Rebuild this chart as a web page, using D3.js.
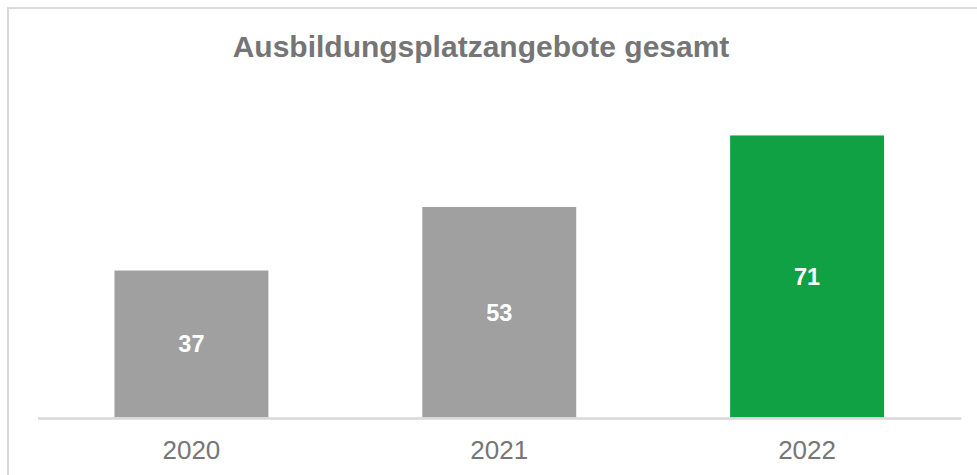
<!DOCTYPE html>
<html>
<head>
<meta charset="utf-8">
<script src="https://cdn.jsdelivr.net/npm/d3@7"></script>
<style>
  body { margin: 0; background: #fff; }
  svg { display: block; font-family: "Liberation Sans", Arial, sans-serif; }
</style>
</head>
<body>
<svg id="chart"></svg>
<script>
// data
const years = ['2020', '2021', '2022'];
const offers = [37, 53, 71];
const barColors = ['#a0a0a0', '#a0a0a0', '#0fa144'];
const title = 'Ausbildungsplatzangebote gesamt';

const width = 977, height = 475;
const svg = d3.select('#chart')
  .attr('width', width)
  .attr('height', height);

// outer frame (right and bottom edge fall outside the picture)
svg.append('rect')
  .attr('x', 8).attr('y', 8)
  .attr('width', 990).attr('height', 490)
  .attr('fill', 'none')
  .attr('stroke', '#d9d9d9')
  .attr('stroke-width', 2);

svg.append('text')
  .attr('x', 481).attr('y', 57)
  .attr('text-anchor', 'middle')
  .attr('font-size', '30px')
  .attr('font-weight', 'bold')
  .attr('fill', '#757575')
  .text(title);

const xScale = d3.scaleBand()
  .domain(years)
  .range([37.5, 961])
  .paddingInner(0.5)
  .paddingOuter(0.25);

const yScale = d3.scaleLinear()
  .domain([0, 80])
  .range([417.5, 99.7]);

const chart = svg.append('g');

chart.selectAll('rect.bar')
  .data(offers)
  .join('rect')
  .attr('class', 'bar')
  .attr('x', (d, i) => xScale(years[i]))
  .attr('width', xScale.bandwidth())
  .attr('y', d => yScale(d))
  .attr('height', d => yScale(0) - yScale(d))
  .attr('fill', (d, i) => barColors[i]);

// value labels in middle of each bar
chart.selectAll('text.val')
  .data(offers)
  .join('text')
  .attr('class', 'val')
  .attr('x', (d, i) => xScale(years[i]) + xScale.bandwidth() / 2)
  .attr('y', d => (yScale(d) + yScale(0)) / 2)
  .attr('dy', '0.36em')
  .attr('text-anchor', 'middle')
  .attr('font-size', '23.5px')
  .attr('font-weight', 'bold')
  .attr('fill', '#fff')
  .text(d => d);

const xAxis = d3.axisBottom(xScale).tickSize(0).tickPadding(23);
const xAxisG = svg.append('g')
  .attr('class', 'axis x-axis')
  .attr('transform', `translate(0,${yScale(0) + 0.5})`)
  .call(xAxis);

xAxisG.select('.domain')
  .attr('stroke', '#d9d9d9')
  .attr('stroke-width', 2.5);
xAxisG.selectAll('text')
  .attr('font-size', '26px')
  .attr('font-family', '"Liberation Sans", Arial, sans-serif')
  .attr('fill', '#767676');
</script>
</body>
</html>
